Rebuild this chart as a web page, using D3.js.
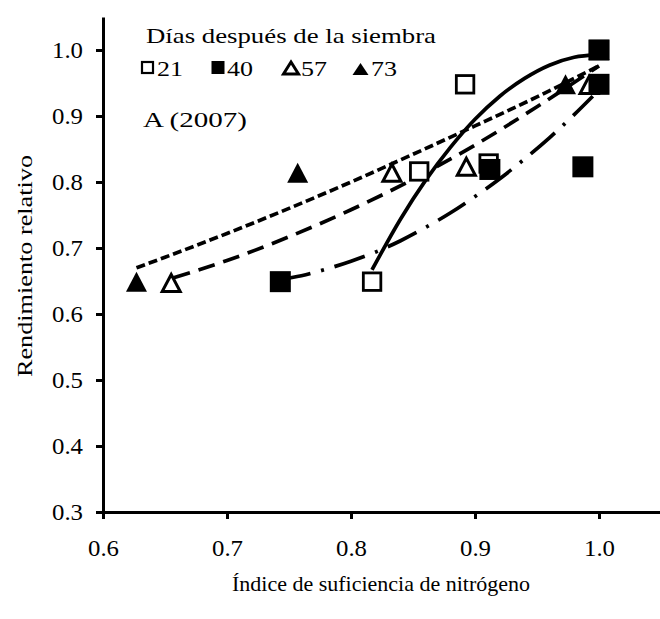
<!DOCTYPE html>
<html><head><meta charset="utf-8">
<script src="https://cdn.jsdelivr.net/npm/d3@7"></script>
<style>body{margin:0;background:#fff}text{font-family:"Liberation Serif","Times New Roman",serif;fill:#000}</style>
</head><body><svg id="c" width="660" height="619"></svg>
<script>
// ---- data ----
const xTicks = [0.6, 0.7, 0.8, 0.9, 1.0];
const yTicks = [0.3, 0.4, 0.5, 0.6, 0.7, 0.8, 0.9, 1.0];
const seriesNames = ["21", "40", "57", "73"];

const x21 = [0.817, 0.855, 0.892, 0.911, 1.0];
const y21 = [0.649, 0.816, 0.948, 0.828, 1.0];
const x40 = [0.743, 0.912, 0.987, 1.0, 1.0];
const y40 = [0.649, 0.819, 0.823, 0.948, 1.0];
const x57 = [0.655, 0.833, 0.893, 0.992];
const y57 = [0.647, 0.814, 0.823, 0.947];
const x73 = [0.627, 0.757, 0.973, 1.0];
const y73 = [0.649, 0.814, 0.948, 1.0];

// fitted trend curves
const fit21x = [0.817, 0.84, 0.86, 0.88, 0.90, 0.92, 0.94, 0.96, 0.98, 0.999];
const fit21y = [0.667, 0.744, 0.802, 0.852, 0.895, 0.930, 0.957, 0.977, 0.989, 0.993];
const fit40x = [0.742, 0.76, 0.78, 0.80, 0.82, 0.84, 0.86, 0.88, 0.90, 0.92, 0.94, 0.96, 0.98, 0.995];
const fit40y = [0.652, 0.658, 0.668, 0.680, 0.694, 0.711, 0.731, 0.753, 0.778, 0.805, 0.835, 0.867, 0.902, 0.930];
const fit57x = [0.657, 0.70, 0.75, 0.80, 0.85, 0.90, 0.95, 1.0];
const fit57y = [0.655, 0.681, 0.717, 0.758, 0.804, 0.856, 0.914, 0.976];
const fit73x = [0.627, 0.65, 0.70, 0.75, 0.80, 0.85, 0.90, 0.95, 1.0];
const fit73y = [0.670, 0.686, 0.722, 0.760, 0.800, 0.842, 0.885, 0.929, 0.976];

const legendTitle = "Días después de la siembra";
const panelLabel = "A (2007)";
const xTitle = "Índice de suficiencia de nitrógeno";
const yTitle = "Rendimiento relativo";

// ---- chart ----
const svg = d3.select("#c");
const x = d3.scaleLinear().domain([0.6, 1.05]).range([103, 661]);
const y = d3.scaleLinear().domain([0.3, 1.05]).range([512, 17]);
const zip = (a, b) => a.map((v, i) => [v, b[i]]);
const stretch = (sel, w) => sel.attr("textLength", w).attr("lengthAdjust", "spacingAndGlyphs");

const gx = svg.append("g").attr("transform", "translate(0,512)")
  .call(d3.axisBottom(x).tickValues(xTicks).tickFormat(d3.format(".1f"))
    .tickSize(7).tickSizeOuter(0).tickPadding(21));
const gy = svg.append("g").attr("transform", "translate(103,0)")
  .call(d3.axisLeft(y).tickValues(yTicks).tickFormat(d3.format(".1f"))
    .tickSize(7).tickSizeOuter(0).tickPadding(13));
[gx, gy].forEach(g => {
  g.select(".domain").attr("stroke", "#000").attr("stroke-width", 3);
  g.selectAll(".tick line").attr("stroke", "#000").attr("stroke-width", 3);
  const t = g.selectAll(".tick text").attr("font-size", 23).attr("fill", "#000");
  stretch(t, 31);
});

const line = d3.line().x(d => x(d[0])).y(d => y(d[1])).curve(d3.curveMonotoneX);
const fits = [
  {pts: zip(fit21x, fit21y), dash: null},
  {pts: zip(fit40x, fit40y), dash: "32,11,3,11"},
  {pts: zip(fit57x, fit57y), dash: "17,9"},
  {pts: zip(fit73x, fit73y), dash: "9,4"}
];
svg.append("g").selectAll("path").data(fits).join("path")
  .attr("d", d => line(d.pts)).attr("fill", "none").attr("stroke", "#000")
  .attr("stroke-width", 3.7).attr("stroke-dasharray", d => d.dash);

function square(g, pts, filled, s) {
  g.selectAll(null).data(pts).join("rect")
    .attr("x", d => x(d[0]) - s / 2).attr("y", d => y(d[1]) - s / 2)
    .attr("width", s).attr("height", s)
    .attr("fill", filled ? "#000" : "#fff").attr("stroke", "#000")
    .attr("stroke-width", filled ? 0 : 2.8);
}
function tri(g, pts, filled, w, h) {
  g.selectAll(null).data(pts).join("path")
    .attr("d", d => { const cx = x(d[0]), cy = y(d[1]);
      return `M${cx},${cy - h / 2}L${cx + w / 2},${cy + h / 2}L${cx - w / 2},${cy + h / 2}Z`; })
    .attr("fill", filled ? "#000" : "#fff").attr("stroke", "#000")
    .attr("stroke-width", filled ? 0 : 3);
}
const gm = svg.append("g");
square(gm, zip(x21, y21), false, 17.5);
tri(gm, zip(x57, y57), false, 18, 17);
tri(gm, zip(x73, y73), true, 21, 20);
square(gm, zip(x40, y40), true, 21);

// legend
const lg = svg.append("g");
stretch(lg.append("text").attr("x", 146).attr("y", 43).attr("font-size", 22).text(legendTitle), 290);
const legX = [147.5, 218, 291, 360.5];
const legTX = [157, 227, 301, 371];
lg.append("rect").attr("x", legX[0] - 5.5).attr("y", 62).attr("width", 11).attr("height", 11)
  .attr("fill", "#fff").attr("stroke", "#000").attr("stroke-width", 2.2);
lg.append("rect").attr("x", legX[1] - 6.5).attr("y", 61).attr("width", 13).attr("height", 13).attr("fill", "#000");
lg.append("path").attr("d", `M${legX[2]},${62}L${legX[2] + 7.5},${74}L${legX[2] - 7.5},${74}Z`)
  .attr("fill", "#fff").attr("stroke", "#000").attr("stroke-width", 3);
lg.append("path").attr("d", `M${legX[3]},${63}L${legX[3] + 8},${75}L${legX[3] - 8},${75}Z`).attr("fill", "#000");
stretch(lg.selectAll(null).data(seriesNames).join("text")
  .attr("x", (d, i) => legTX[i]).attr("y", 75.5).attr("font-size", 22).text(d => d), 26);
stretch(lg.append("text").attr("x", 143).attr("y", 127).attr("font-size", 22).text(panelLabel), 104);

svg.append("text").attr("x", 381).attr("y", 591).attr("text-anchor", "middle").attr("font-size", 22).text(xTitle);
stretch(svg.append("text").attr("transform", "translate(32,266) rotate(-90)").attr("text-anchor", "middle")
  .attr("font-size", 22).text(yTitle), 222);
</script></body></html>
